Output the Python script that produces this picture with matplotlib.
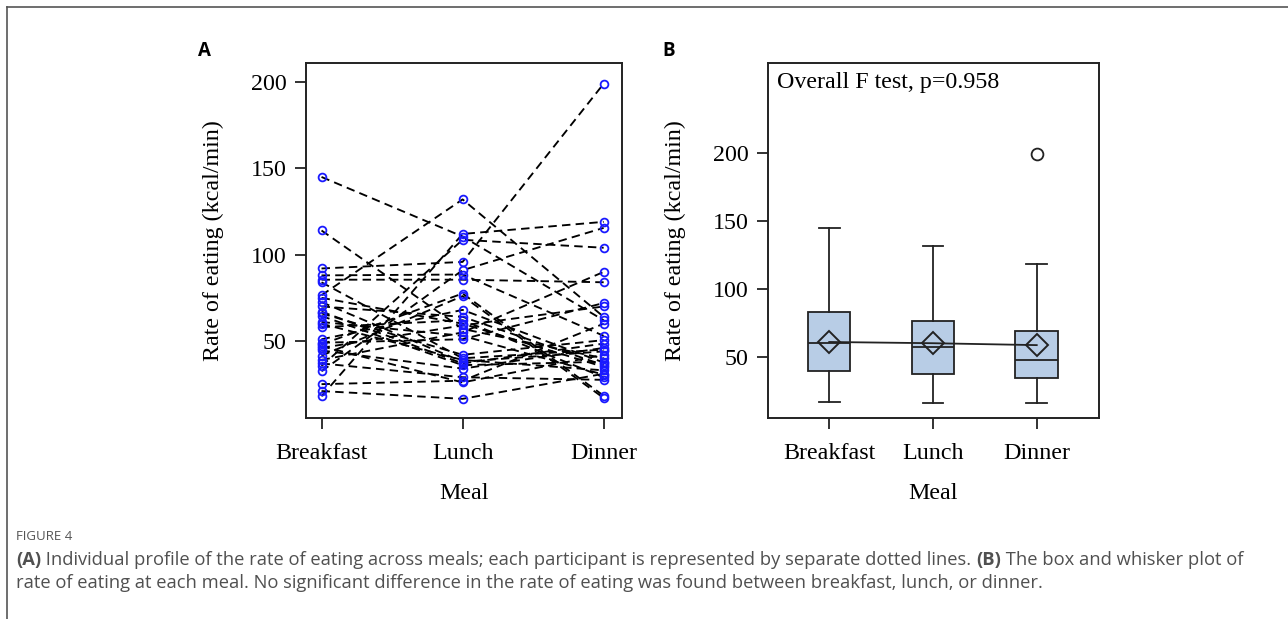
import matplotlib
matplotlib.use("Agg")
import matplotlib.pyplot as plt
from matplotlib.lines import Line2D
import numpy as np

# ---------------- data ----------------
meals = ["Breakfast", "Lunch", "Dinner"]

# individual profiles (one entry per participant)
breakfast = [145, 114, 92, 88, 85.5, 84, 76.5, 75, 72.5, 70, 67, 66, 64.5, 61, 60,
             58, 51, 49, 48, 47, 46, 44.5, 41.5, 39, 37, 35.5, 32.5, 25, 21, 18]
lunch = [110.5, 57, 95.8, 88.5, 85.5, 40, 132, 60, 38, 64, 37, 42, 36, 53, 39,
         62, 68, 51, 77.5, 26, 59, 34, 76, 55, 29, 108.6, 91, 27, 16.5, 112]
dinner = [62, 40, 199, 53, 84, 45, 64, 35, 44, 36, 48.5, 50.5, 38, 30.5, 33,
          29, 37.5, 72, 18.3, 42, 70, 46, 17, 90, 27.5, 104, 115.5, 60, 31, 119]

# box plot summary statistics
box_whislo = [17.2, 16.2, 16.7]
box_q1 = [39.7, 37.7, 34.8]
box_med = [60.7, 57.3, 47.7]
box_q3 = [83.3, 76.9, 69.5]
box_whishi = [145, 131.7, 118.7]
box_mean = [61.2, 60.3, 58.9]
box_fliers = [[], [], [199.3]]

yticks = [50, 100, 150, 200]
annotation = "Overall F test, p=0.958"
caption_head = "FIGURE 4"

# ---------------- figure ----------------
W, H = 1288, 619
fig = plt.figure(figsize=(W / 100, H / 100), dpi=100)
fig.patch.set_facecolor("white")

serif = ["Liberation Serif", "DejaVu Serif"]
fs = 17.3


def fx(px):
    return px / W


def fy(py):
    return 1 - py / H


axA = fig.add_axes([fx(306), fy(418), fx(622) - fx(306), fy(63) - fy(418)])
axB = fig.add_axes([fx(768), fy(418), fx(1099) - fx(768), fy(63) - fy(418)])

for ax in (axA, axB):
    for sp in ax.spines.values():
        sp.set_linewidth(1.4)
        sp.set_color("#222222")
    ax.tick_params(direction="out", length=8, width=1.3, color="#222222",
                   labelsize=fs, top=False, right=False)
    ax.tick_params(axis="x", pad=10)
    ax.tick_params(axis="y", pad=6)
    ax.set_xticks(range(3))
    ax.set_xticklabels(meals, fontfamily=serif)
    ax.set_yticks(yticks)
    ax.set_yticklabels([str(t) for t in yticks], fontfamily=serif)
    ax.set_xlabel("Meal", fontfamily=serif, fontsize=fs, labelpad=14)
    ax.set_ylabel("Rate of eating (kcal/min)", fontfamily=serif, fontsize=fs,
                  labelpad=19)

# ---- panel A: individual profiles ----
xpos = np.arange(3)
for b, l, d in zip(breakfast, lunch, dinner):
    axA.plot(xpos, [b, l, d], color="black", lw=1.35,
             linestyle=(0, (4.5, 2.8)), zorder=2)
for i, col in enumerate([breakfast, lunch, dinner]):
    axA.plot(np.full(len(col), i), col, linestyle="none", marker="o",
             markersize=5.6, markerfacecolor="none", markeredgecolor="#1a1aff",
             markeredgewidth=1.3, zorder=3)
axA.set_xlim(-0.11, 2.13)
axA.set_ylim(5.4, 211)

# ---- panel B: box plot ----
stats = []
for i in range(3):
    stats.append(dict(med=box_med[i], q1=box_q1[i], q3=box_q3[i],
                      whislo=box_whislo[i], whishi=box_whishi[i],
                      mean=box_mean[i], fliers=box_fliers[i], label=meals[i]))
axB.bxp(stats, positions=xpos, widths=0.41, patch_artist=True, showmeans=False,
        boxprops=dict(facecolor="#b8cde6", edgecolor="#222222", linewidth=1.3),
        medianprops=dict(color="#222222", linewidth=1.3),
        whiskerprops=dict(color="#222222", linewidth=1.3),
        capprops=dict(color="#222222", linewidth=1.3),
        capwidths=0.2,
        flierprops=dict(marker="o", markersize=8.5, markerfacecolor="none",
                        markeredgecolor="#222222", markeredgewidth=1.3))
axB.plot(xpos, box_mean, color="#222222", lw=1.3, zorder=4)
axB.plot(xpos, box_mean, linestyle="none", marker="D", markersize=11,
         markerfacecolor="none", markeredgecolor="#222222",
         markeredgewidth=1.4, zorder=5)
axB.set_xticks(range(3))
axB.set_xticklabels(meals, fontfamily=serif)
axB.set_xlim(-0.59, 2.6)
axB.set_ylim(5.4, 266)
axB.text(0.027, 0.945, annotation, transform=axB.transAxes, fontfamily=serif,
         fontsize=fs, va="center", ha="left")

# ---- panel letters ----
fig.text(fx(198), fy(51), "A", fontfamily=["Open Sans", "DejaVu Sans"],
         fontweight="bold", fontsize=13.5, va="center", ha="left")
fig.text(fx(662), fy(51), "B", fontfamily=["Open Sans", "DejaVu Sans"],
         fontweight="bold", fontsize=13.5, va="center", ha="left")

# ---- caption ----
cap_font = ["Open Sans", "DejaVu Sans"]
cap_fs = 13.25
fig.text(fx(16), fy(537), caption_head, fontfamily=cap_font, fontsize=9.5,
         color="#555555", va="center", ha="left")
line1_parts = [("(A)", "bold"),
               (" Individual profile of the rate of eating across meals; each participant is represented by separate dotted lines. ", "normal"),
               ("(B)", "bold"),
               (" The box and whisker plot of", "normal")]
renderer = fig.canvas.get_renderer()
x = fx(16)
for txt, wt in line1_parts:
    t = fig.text(x, fy(560), txt, fontfamily=cap_font, fontsize=cap_fs,
                 fontweight=wt, color="#505050", va="center", ha="left")
    bb = t.get_window_extent(renderer=renderer)
    x = x + bb.width / W
fig.text(fx(16), fy(583),
         "rate of eating at each meal. No significant difference in the rate of eating was found between breakfast, lunch, or dinner.",
         fontfamily=cap_font, fontsize=cap_fs, color="#505050", va="center", ha="left")

# ---- frame lines ----
fig.add_artist(Line2D([fx(7), 1], [fy(7), fy(7)], color="#555555", lw=1.2))
fig.add_artist(Line2D([fx(7), fx(7)], [fy(7), 0], color="#555555", lw=1.2))

fig.savefig("out.png", dpi=100, facecolor="white")
